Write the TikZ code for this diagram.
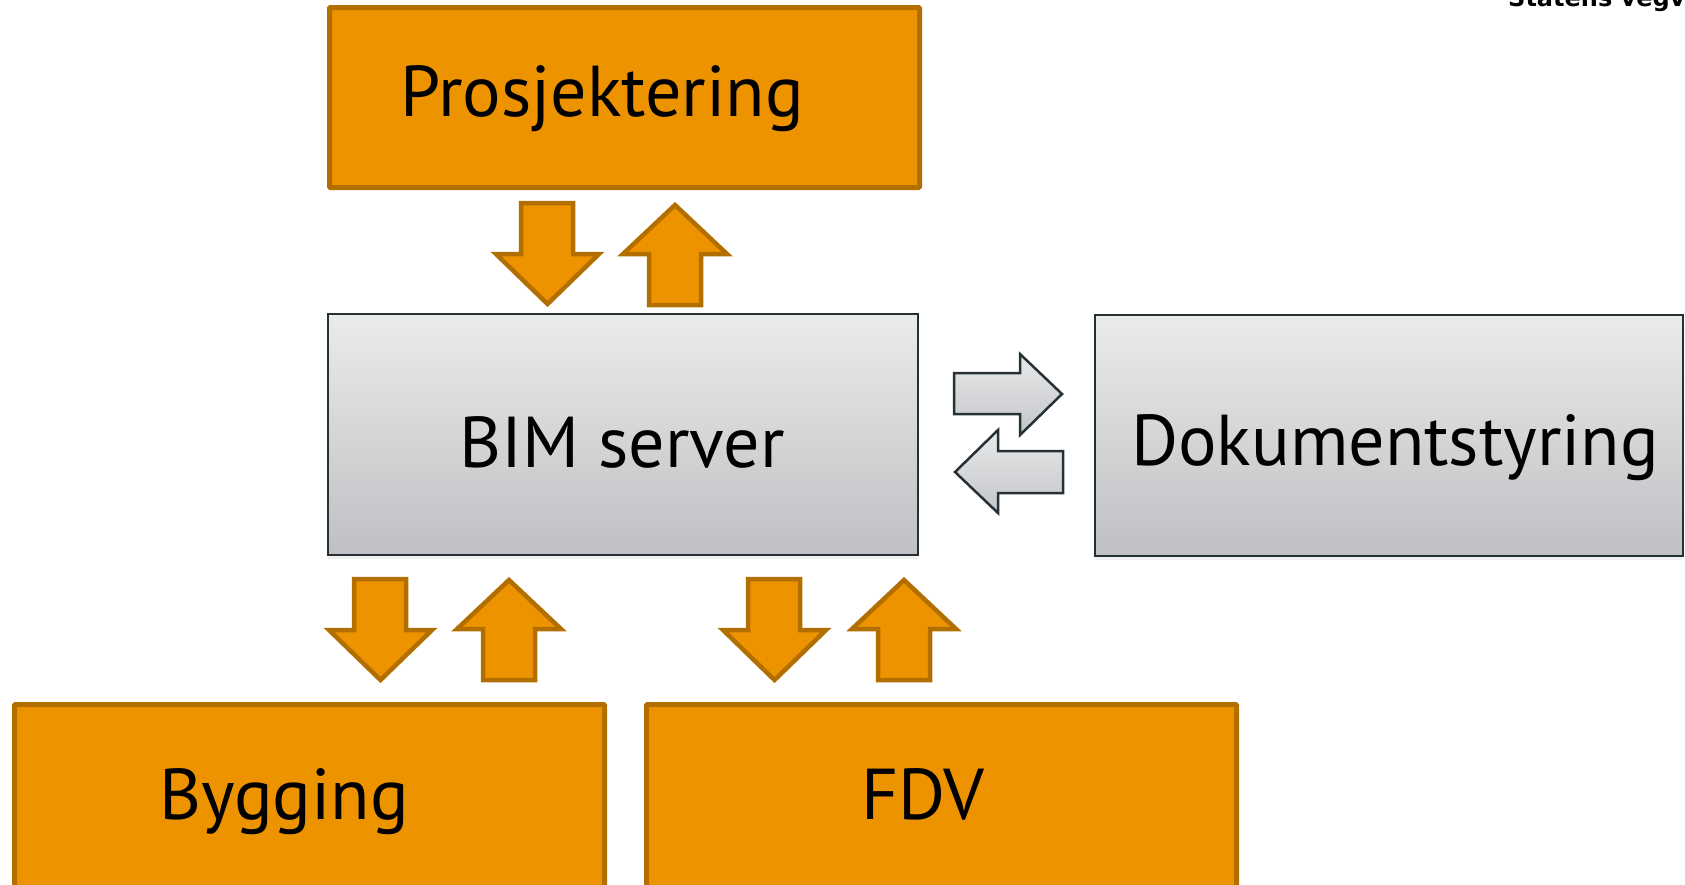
\documentclass[tikz,border=0pt]{standalone}
\usepackage{fontspec}
\setmainfont{PT Sans}
\newfontfamily\logofont{DejaVu Sans}
\usetikzlibrary{shadows}
\definecolor{ofill}{HTML}{ED9300}
\definecolor{oline}{HTML}{B36E00}
\definecolor{gline}{HTML}{263136}
\definecolor{gtop}{HTML}{EAEBEB}
\definecolor{gbot}{HTML}{BFC0C3}
\definecolor{atop}{HTML}{E8E9EA}
\definecolor{abot}{HTML}{C4C5C8}
\tikzset{
  obox/.style={draw=oline, fill=ofill, line width=5pt, rounded corners=1pt, inner sep=0pt},
  gbox/.style={draw=gline, line width=2.8pt, top color=gtop, bottom color=gbot, inner sep=0pt,
    drop shadow={opacity=0.12, shadow xshift=0pt, shadow yshift=-4pt}},
  lbl/.style={anchor=base, inner sep=0pt, font=\fontsize{72}{80}\selectfont},
  oarrow/.style={draw=oline, fill=ofill, line width=4.5pt, line join=miter},
  garrow/.style={draw=gline, line width=2.5pt, line join=miter, top color=atop, bottom color=abot},
  pics/downarr/.style={code={\draw[oarrow] (30,2) -- (82,2) -- (82,53) -- (108,53) -- (56.5,103) -- (5,53) -- (30,53) -- cycle;}},
  pics/uparr/.style={code={\draw[oarrow] (57,3) -- (109,52) -- (83,52) -- (83,103) -- (31,103) -- (31,52) -- (5,52) -- cycle;}},
  pics/rightarr/.style={code={\draw[garrow] (1,22) -- (67,22) -- (67,3) -- (109,43) -- (67,84) -- (67,63) -- (1,63) -- cycle;}},
  pics/leftarr/.style={code={\draw[garrow] (2,45) -- (45,3) -- (45,24) -- (110,24) -- (110,66) -- (45,66) -- (45,86) -- cycle;}},
}
\begin{document}
\begin{tikzpicture}[x=1pt,y=-1pt]
\useasboundingbox (0,0) rectangle (1685,884);
% boxes
\node[obox, minimum width=590pt, minimum height=180pt] (pros) at (624.5,97.5) {};
\node[gbox, minimum width=590pt, minimum height=241pt] (bim) at (623,434.5) {};
\node[gbox, minimum width=588pt, minimum height=241pt] (dok) at (1389,435.5) {};
\node[obox, minimum width=590pt, minimum height=190pt] (byg) at (309.5,799.5) {};
\node[obox, minimum width=590pt, minimum height=190pt] (fdv) at (941.5,799.5) {};
% labels
\node[lbl] (tpros) at (602,116) {Prosjektering};
\node[lbl] (tbim) at (622,467) {BIM server};
\node[lbl] (tdok) at (1395,465) {Dokumentstyring};
\node[lbl] (tbyg) at (284,819) {Bygging};
\node[lbl] (tfdv) at (923,819) {FDV};
% arrows
\pic at (491,201) {downarr};
\pic at (618,202) {uparr};
\pic at (324,577) {downarr};
\pic at (452,577) {uparr};
\pic at (718,577) {downarr};
\pic at (847,577) {uparr};
\pic at (953,351) {rightarr};
\pic at (953,427) {leftarr};
% logo text
\node[anchor=base west, inner sep=0pt, font=\logofont\bfseries\fontsize{24}{28}\selectfont] (logo) at (1508,6) {Statens vegvesen};
\end{tikzpicture}
\end{document}
